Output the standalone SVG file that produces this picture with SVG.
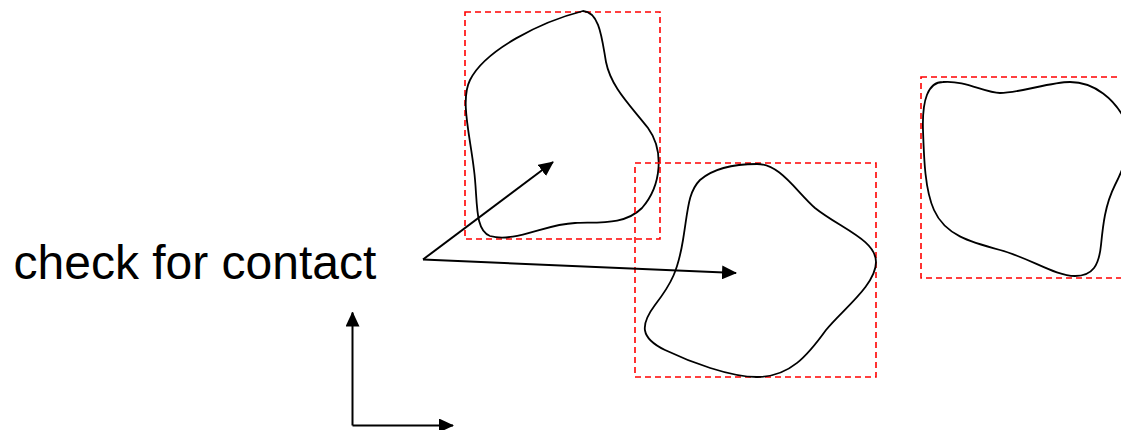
<svg xmlns="http://www.w3.org/2000/svg" width="1121" height="430" viewBox="0 0 1121 430">
<style>
.bbox{fill:none;stroke:#ff0000;stroke-width:1.6;stroke-dasharray:6,4}
.blob{fill:none;stroke:#000;stroke-width:1.8}
.arr{fill:none;stroke:#000;stroke-width:2;marker-end:url(#ah)}
.lbl{font-family:"Liberation Sans",Arial,sans-serif;font-size:48px;fill:#000}
</style>
<defs>
<marker id="ah" viewBox="0 0 15 14" refX="14" refY="7" markerWidth="15" markerHeight="14" markerUnits="userSpaceOnUse" orient="auto">
<path d="M0,0 L15,7 L0,14 Z" fill="#000"/>
</marker>
</defs>
<rect width="1121" height="430" fill="#fff"/>
<g id="body1">
<rect class="bbox" x="465" y="12" width="195" height="227"/>
<path class="blob" d="M583,11 C600,12 602,40 606,62 C611,87 630,105 648,128 C664,150 662,185 642,208 C625,225 600,222 575,223 C545,224 515,243 490,236 C474,230 478,200 474,170 C470,135 460,100 470,80 C485,50 540,22 583,11 Z"/>
</g>
<g id="body2">
<rect class="bbox" x="635" y="163" width="241" height="214"/>
<path class="blob" d="M757,164 C780,164 795,190 815,208 C840,228 876,240 876,262 C876,285 842,310 826,330 C808,355 790,377 757,377 C730,377 690,362 665,350 C640,338 640,325 655,305 C672,283 678,270 683,240 C688,210 688,192 700,180 C715,167 740,164 757,164 Z"/>
</g>
<g id="body3">
<rect class="bbox" x="921" y="77" width="215" height="201"/>
<path class="blob" d="M943,82 C965,80 985,93 1000,93 C1020,93 1050,82 1070,82 C1095,82 1115,100 1125,120 C1132,140 1128,160 1115,185 C1105,205 1103,225 1101,245 C1099,265 1093,276 1075,276 C1055,276 1030,258 1000,250 C970,242 945,235 934,210 C925,190 924,160 923,130 C922,100 928,82 943,82 Z"/>
</g>
<g id="label">
<text class="lbl" x="13.5" y="279">check for contact</text>
</g>
<g id="connectors">
<line class="arr" x1="423" y1="259.5" x2="553" y2="162"/>
<line class="arr" x1="423" y1="259.5" x2="736" y2="273"/>
<line class="arr" x1="352.5" y1="425.5" x2="352.5" y2="312.5"/>
<line class="arr" x1="352.5" y1="425.5" x2="453" y2="425.5"/>
</g>
</svg>
